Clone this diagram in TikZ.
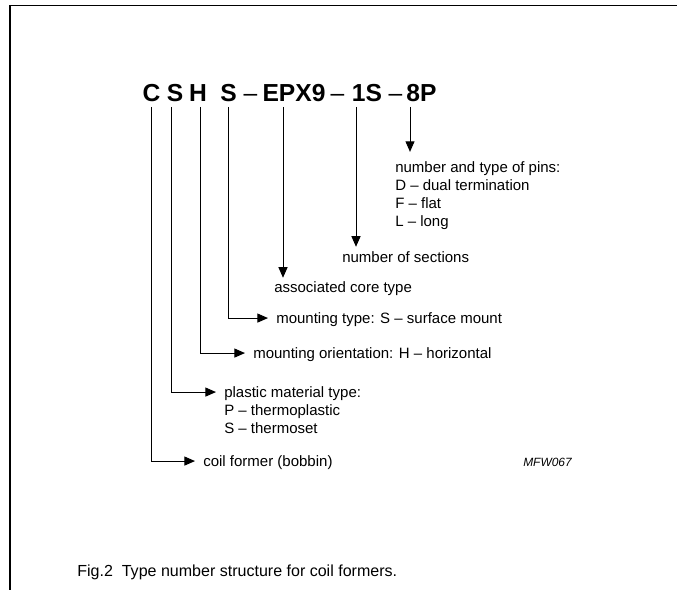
\documentclass[tikz,border=0pt]{standalone}
\usepackage{fontspec}
\setmainfont{Liberation Sans}
\usetikzlibrary{arrows.meta,positioning,calc}
\tikzset{
  >={Triangle[length=7.5pt,width=6.4pt]},
  codepart/.style={font=\fontsize{17.5}{21}\selectfont\bfseries, inner sep=0pt, anchor=base},
  codedash/.style={font=\fontsize{17.5}{21}\selectfont, inner sep=0pt, anchor=base},
  desc/.style={font=\fontsize{10.67}{12.8}\selectfont, inner sep=0pt, anchor=base west,
    text height=7.6pt, text depth=0pt},
  desclist/.style={font=\fontsize{10.67}{12.8}\selectfont, inner sep=0pt, align=left},
  lead/.style={->, line width=0.7pt},
  frameline/.style={line width=1.1pt, line cap=rect},
}
\begin{document}
\begin{tikzpicture}[x=0.025cm, y=-0.025cm]
\useasboundingbox (0,0) rectangle (677,590);

% ---------- frame ----------
\draw[frameline] (10,590) -- (10,5.5) -- (677,5.5);

% ---------- type number ----------
\node[codepart] (codeC)    at (151.5,102) {C};
\node[codepart] (codeS)    at (175,102)   {S};
\node[codepart] (codeH)    at (198,102)   {H};
\node[codepart] (codeM)    at (228.5,102) {S};
\node[codedash] (dash1)    at (250.5,102) {--};
\node[codepart] (codeCore) at (294,102)   {EPX9};
\node[codedash] (dash2)    at (337.5,102) {--};
\node[codepart] (codeSec)  at (367,102)   {1S};
\node[codedash] (dash3)    at (395.5,102) {--};
\node[codepart] (codePin)  at (421.5,102) {8P};

% tick starts under the letters
\coordinate (tC)    at (151,107);
\coordinate (tS)    at (171,107);
\coordinate (tH)    at (200,107);
\coordinate (tM)    at (228,107);
\coordinate (tCore) at (283,107);
\coordinate (tSec)  at (356,107);
\coordinate (tPin)  at (410,107);

% ---------- descriptions ----------
\node[desc] (pinshead) at (395,172.4) {number and type of pins:};
\node[desclist, below=4.6pt of pinshead.south west, anchor=north west] (pinslist)
  {D -- dual termination\\F -- flat\\L -- long};
\node[desc] (sections) at (342,262.4) {number of sections};
\node[desc] (core)     at (274,292.4) {associated core type};
\node[desc] (mount)    at (276,323.4) {mounting type: S -- surface mount};
\node[desc] (orient)   at (253,358.4) {mounting orientation: H -- horizontal};
\node[desc] (plastic)  at (224,397.4) {plastic material type:};
\node[desclist, below=4.6pt of plastic.south west, anchor=north west] (plasticlist)
  {P -- thermoplastic\\S -- thermoset};
\node[desc] (coil)     at (203,466.4) {coil former (bobbin)};

\node[font=\fontsize{8.5}{10}\selectfont\itshape, inner sep=0pt, anchor=base west] (drawno)
  at (523,466.3) {MFW067};

% ---------- leads ----------
\foreach \t/\d in {tC/coil, tS/plastic, tH/orient, tM/mount}{
  \draw[lead, shorten >=5.7pt] (\t) |- (\d.west);}
\foreach \t/\d/\s in {tCore/core/2.6pt, tSec/sections/3.3pt, tPin/pinshead/6.8pt}{
  \draw[lead, shorten >=\s] (\t) -- (\t |- \d.north);}

% ---------- caption ----------
\node[font=\fontsize{11.4}{13}\selectfont, inner sep=0pt, anchor=base west] (caption)
  at (77,576.7) {Fig.2\ \ Type number structure for coil formers.};

\end{tikzpicture}
\end{document}
